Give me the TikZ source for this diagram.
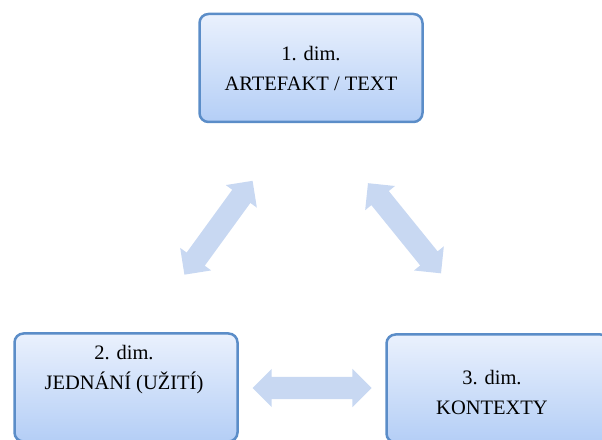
\documentclass[tikz,border=0pt]{standalone}
\usepackage{fontspec}
\setmainfont{Liberation Serif}
\usepackage{tikz}
\usetikzlibrary{shapes.arrows,positioning,calc}
\definecolor{dimedge}{HTML}{5B8DC8}
\definecolor{dimtop}{HTML}{EAF1FD}
\definecolor{dimbot}{HTML}{B4CEF6}
\definecolor{arrfill}{HTML}{C8D8F2}

\begin{document}
\begin{tikzpicture}[x=1pt, y=1pt,
    dim/.style={draw=dimedge, line width=2.5pt, rounded corners=9pt, top color=dimtop,
                bottom color=dimbot, minimum width=223pt, minimum height=108pt},
    dimtxt/.style={align=center, font=\fontsize{20.5}{30}\selectfont, inner sep=0pt},
    dbl/.style={double arrow, draw=none, fill=arrfill, minimum height=116pt,
                double arrow head extend=8pt, inner xsep=0pt, inner ysep=11pt}]
    \clip (0,0) rectangle (602,439);
    % three dimensions
    \node[dim] (art) at (311,371) {};
    \node[dim] (jed) at (126,51.5) {};
    \node[dim] (kon) at (498,50.5) {};
    \node[dimtxt] (artT) at (art) {1. dim.\\ARTEFAKT / TEXT};
    \node[dimtxt] (jedT) at ($(jed)+(-2,18)$) {2. dim.\\JEDNÁNÍ (UŽITÍ)};
    \node[dimtxt] (konT) at ($(kon)+(-6,-4)$) {3. dim.\\KONTEXTY};
    % block arrows between them
    \node[dbl, rotate=54] (aj) at ($(art)!0.5!(jed)$) {};
    \node[dbl, rotate=-51] (ak) at ($(art)!0.5!(kon)$) {};
    \node[dbl, minimum height=119pt] (jk) at ($(jed)!0.5!(kon)$) {};
  \end{tikzpicture}
\end{document}
